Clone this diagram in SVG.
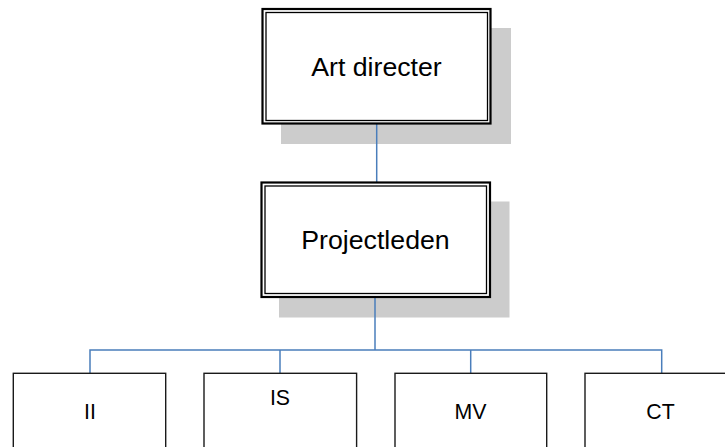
<svg xmlns="http://www.w3.org/2000/svg" width="725" height="447" viewBox="0 0 725 447">
  <style>
    .shadow { fill: #cccccc; }
    .outer { fill: #ffffff; stroke: #000000; stroke-width: 2.2; }
    .inner { fill: none; stroke: #000000; stroke-width: 1.3; }
    .box { fill: #ffffff; stroke: #1a1a1a; stroke-width: 1.4; }
    .link { fill: none; stroke: #4a7ebb; stroke-width: 1.5; }
    .big { font-family: "Liberation Sans", Arial, sans-serif; font-size: 26.7px; fill: #000; text-anchor: middle; }
    .small { font-family: "Liberation Sans", Arial, sans-serif; font-size: 21.3px; fill: #000; text-anchor: middle; }
  </style>
  <rect width="725" height="447" fill="#ffffff"/>

  <!-- shadows sit beneath everything -->
  <rect class="shadow" x="281" y="28" width="230" height="116"/>
  <rect class="shadow" x="279" y="201.5" width="230.5" height="116"/>

  <g id="connectors">
    <path class="link" d="M376.7 124 V182.5"/>
    <path class="link" d="M375 297 V350"/>
    <path class="link" d="M90 373.3 V350 H661.7 V373.3"/>
    <path class="link" d="M280 350 V373.3"/>
    <path class="link" d="M470.7 350 V373.3"/>
  </g>

  <g id="art-directer">
    <rect class="outer" x="262.5" y="9" width="228" height="114.5"/>
    <rect class="inner" x="266" y="12.5" width="221.5" height="108"/>
    <text class="big" x="376.5" y="76">Art directer</text>
  </g>

  <g id="projectleden">
    <rect class="outer" x="261.5" y="182.5" width="228.5" height="114.5"/>
    <rect class="inner" x="265" y="186" width="221.5" height="107.5"/>
    <text class="big" x="375.5" y="249.3">Projectleden</text>
  </g>

  <g id="ii">
    <rect class="box" x="13.3" y="373.3" width="152.4" height="90"/>
    <text class="small" x="90" y="419.3">II</text>
  </g>

  <g id="is">
    <rect class="box" x="204" y="373.3" width="152.6" height="90"/>
    <text class="small" x="280" y="405">IS</text>
  </g>

  <g id="mv">
    <rect class="box" x="395" y="373.3" width="151.7" height="90"/>
    <text class="small" x="470.5" y="419.3">MV</text>
  </g>

  <g id="ct">
    <rect class="box" x="585" y="373.3" width="152" height="90"/>
    <text class="small" x="660.5" y="419.3">CT</text>
  </g>
</svg>
